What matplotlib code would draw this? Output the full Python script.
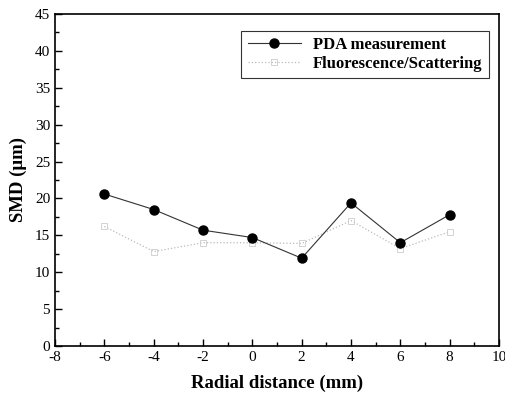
import matplotlib
matplotlib.use("Agg")
import matplotlib.pyplot as plt
from matplotlib.ticker import MultipleLocator

# Data
radial = [-6, -4, -2, 0, 2, 4, 6, 8]
pda = [20.6, 18.5, 15.7, 14.7, 11.9, 19.4, 14.0, 17.8]
fluor = [16.2, 12.8, 14.0, 14.0, 13.9, 17.0, 13.2, 15.5]

plt.rcParams['font.family'] = ['Liberation Serif', 'DejaVu Serif']
plt.rcParams['axes.unicode_minus'] = False

fig = plt.figure(figsize=(5.06, 3.96), dpi=100)
ax = fig.add_axes([55/506, 1-346/396, (499-55)/506, (346-14)/396])

ax.plot(radial, pda, color='#333333', linewidth=0.8, marker='o',
        markersize=6.5, markerfacecolor='black', markeredgecolor='black',
        label='PDA measurement', zorder=3)
ax.plot(radial, fluor, color='#bbbbbb', linewidth=0.9, linestyle=':',
        marker='s', markersize=4, markerfacecolor='none',
        markeredgecolor='#cccccc', markeredgewidth=0.6,
        label='Fluorescence/Scattering', zorder=2)

ax.set_xlim(-8, 10)
ax.set_ylim(0, 45)
ax.xaxis.set_major_locator(MultipleLocator(2))
ax.xaxis.set_minor_locator(MultipleLocator(1))
ax.yaxis.set_major_locator(MultipleLocator(5))
ax.yaxis.set_minor_locator(MultipleLocator(2.5))
ax.tick_params(which='both', direction='in', top=False, right=False,
               labelsize=11, width=1)
ax.tick_params(which='major', length=5)
ax.tick_params(which='minor', length=3)
for s in ax.spines.values():
    s.set_linewidth(1.2)

ax.set_xlabel('Radial distance (mm)', fontsize=13.5, fontweight='bold', labelpad=8)
ax.set_ylabel('SMD (\u03bcm)', fontsize=13.5, fontweight='bold', labelpad=6)

leg = ax.legend(loc='upper right', bbox_to_anchor=(0.977, 0.95),
                borderaxespad=0,
                prop={'weight': 'bold', 'size': 12}, frameon=True,
                fancybox=False, edgecolor='black', borderpad=0.4,
                handlelength=3.2, labelspacing=0.15, handletextpad=0.7)
leg.get_frame().set_linewidth(0.8)

fig.savefig('out.png', dpi=100)
